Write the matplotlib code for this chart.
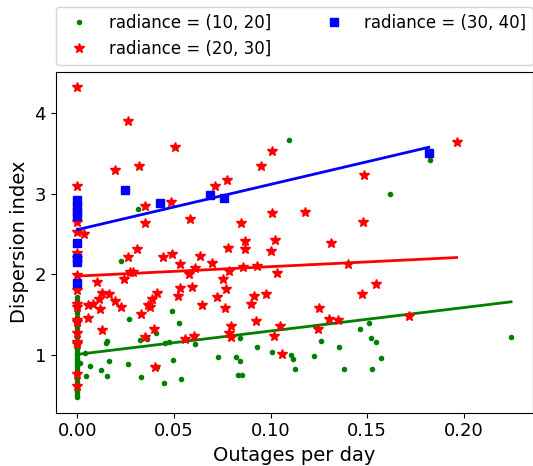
import numpy as np
import matplotlib
matplotlib.use("Agg")
import matplotlib.pyplot as plt

# radiance = (10, 20]
green_x = [0] * 33 + [
    0.0015, 0.0315, 0.1096, 0.1826, 0.1617, 0.0228, 0.0265, 0.0492, 0.0527,
    0.0151, 0.0146, 0.0325, 0.0359, 0.0407, 0.0039, 0.0164, 0.0065, 0.0123,
    0.0262, 0.0043, 0.0151, 0.0330, 0.0455, 0.0472, 0.0497, 0.0450, 0.0538,
    0.0410, 0.0609, 0.0728, 0.0840, 0.0823, 0.0843, 0.0834, 0.0851, 0.0928,
    0.1005, 0.1108, 0.1116, 0.1125, 0.1223, 0.1262, 0.1356, 0.1382, 0.1465,
    0.1511, 0.1522, 0.1544, 0.1523, 0.1571, 0.2245,
]
green_y = [
    1.72, 1.68, 1.63, 1.57, 1.52, 1.47, 1.42, 1.38, 1.34, 1.30, 1.26, 1.22,
    1.18, 1.14, 1.10, 1.06, 1.03, 1.00, 0.97, 0.94, 0.91, 0.88, 0.85, 0.82,
    0.79, 0.75, 0.71, 0.67, 0.63, 0.59, 0.55, 0.51, 0.48,
    0.90, 2.816, 3.67, 3.42, 3.00, 2.163, 1.454, 1.545, 1.40,
    1.177, 1.157, 1.194, 1.20, 1.27, 1.033, 0.93, 0.864, 0.814,
    0.885, 0.74, 0.744, 0.724, 1.152, 1.165, 0.938, 0.66, 0.71,
    0.848, 1.136, 0.98, 1.207, 0.98, 0.93, 0.756, 0.756, 1.10,
    1.045, 1.004, 0.947, 0.823, 0.99, 1.177, 1.10, 0.835, 1.33,
    1.40, 1.207, 1.165, 0.835, 0.97, 1.223,
]

# radiance = (20, 30]
red_x = [0] * 17 + [
    0.0262, 0.0503, 0.0193, 0.0318, 0.0711, 0.0349, 0.0486, 0.0585, 0.0351,
    0.0036, 0.0311, 0.0100, 0.0125, 0.0163, 0.0262, 0.0445, 0.0492, 0.0530,
    0.0633, 0.0609, 0.0697, 0.0578, 0.0270, 0.0287, 0.0241, 0.0113, 0.0079,
    0.0056, 0.0116, 0.0197, 0.0228, 0.0056, 0.0130, 0.0410, 0.0387, 0.0364,
    0.0378, 0.0327, 0.0530, 0.0523, 0.0595, 0.0646, 0.0723, 0.0395, 0.0352,
    0.0557, 0.0605, 0.0402, 0.1010, 0.0951, 0.0773, 0.1484, 0.1005, 0.1176,
    0.0846, 0.1480, 0.1023, 0.0870, 0.0780, 0.0867, 0.1004, 0.1315, 0.0783,
    0.0856, 0.0928, 0.1034, 0.1402, 0.0752, 0.0769, 0.0766, 0.0916, 0.0897,
    0.0974, 0.0923, 0.0795, 0.0783, 0.0795, 0.1051, 0.1017, 0.1060, 0.1253,
    0.1300, 0.1351, 0.1248, 0.1472, 0.1544, 0.1716, 0.1963,
]
red_y = [
    4.32, 3.09, 2.65, 2.53, 2.27, 2.20, 1.99, 1.81, 1.64, 1.60, 1.43, 1.41,
    1.27, 1.165, 1.14, 0.77, 0.62,
    3.896, 3.583, 3.29, 3.343, 3.09, 2.848, 2.90, 2.69, 2.634,
    2.506, 2.31, 1.907, 1.776, 1.755, 2.217, 2.217, 2.25, 2.135,
    2.225, 2.085, 2.14, 2.01, 2.03, 2.03, 1.95, 1.70, 1.64,
    1.62, 1.578, 1.67, 1.60, 1.466, 1.31, 1.776, 1.693, 1.62,
    1.60, 1.516, 1.833, 1.73, 1.845, 1.627, 1.72, 1.33, 1.226,
    1.206, 1.235, 0.855, 3.525, 3.34, 3.166, 3.236, 2.76, 2.774,
    2.642, 2.65, 2.43, 2.41, 2.33, 2.31, 2.29, 2.39, 2.04,
    2.093, 2.10, 2.02, 2.135, 1.95, 1.826, 1.59, 1.73, 1.64,
    1.755, 1.425, 1.36, 1.276, 1.22, 1.36, 1.24, 1.01, 1.59,
    1.454, 1.433, 1.32, 1.764, 1.88, 1.48, 3.64,
]

# radiance = (30, 40]
blue_x = [0, 0, 0, 0, 0, 0, 0, 0, 0.0246, 0.0428, 0.0684, 0.0761, 0.1819]
blue_y = [2.72, 2.78, 2.85, 2.92, 2.39, 2.20, 2.15, 1.90, 3.05, 2.885, 2.99, 2.947, 3.504]

# linear fits (intercept, slope)
fit_green = (1.01, 2.90)
fit_red = (1.98, 1.17)
fit_blue = (2.555, 5.61)

y_ticks = [1, 2, 3, 4]
x_ticks = [0.0, 0.05, 0.10, 0.15, 0.20]

groups = [
    ("radiance = (10, 20]", green_x, green_y, fit_green, "green", "o", 3),
    ("radiance = (20, 30]", red_x, red_y, fit_red, "red", "*", 7.5),
    ("radiance = (30, 40]", blue_x, blue_y, fit_blue, "blue", "s", 6),
]

fig = plt.figure(figsize=(5.33, 4.66), dpi=100)
ax = fig.add_axes([0.1045, 0.1144, 0.895, 0.7318])

for label, xs, ys, (b0, b1), color, marker, ms in groups:
    ax.plot(xs, ys, linestyle="", marker=marker, color=color, markersize=ms, label=label)
    xx = np.array([min(xs), max(xs)])
    ax.plot(xx, b0 + b1 * xx, color=color, linewidth=2)

ax.set_xlabel("Outages per day", fontsize=14)
ax.set_ylabel("Dispersion index", fontsize=14)
ax.tick_params(labelsize=13)
ax.set_xticks(x_ticks)
ax.set_yticks(y_ticks)
ax.legend(bbox_to_anchor=(0, 1.02, 1, 0.2), loc="lower left", mode="expand",
          borderaxespad=0, ncol=2, fontsize=12)

fig.savefig("out.png", dpi=100)
